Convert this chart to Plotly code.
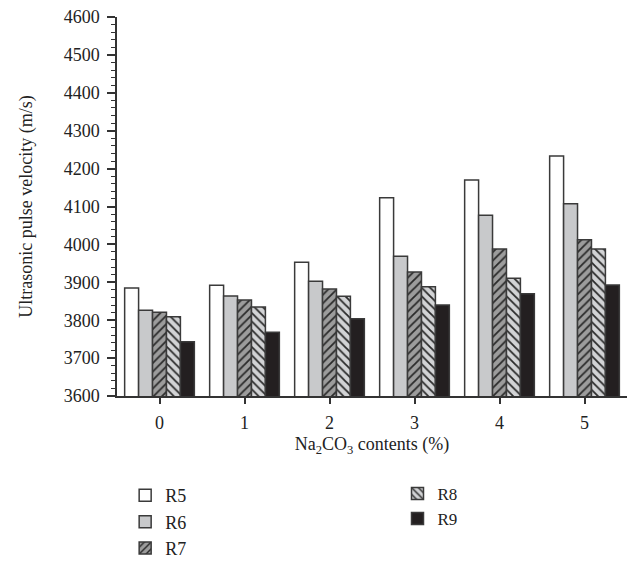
import plotly.graph_objects as go

categories = ["0", "1", "2", "3", "4", "5"]
series_names = ["R5", "R6", "R7", "R8", "R9"]
R5 = [3885, 3892, 3953, 4123, 4170, 4233]
R6 = [3826, 3864, 3903, 3969, 4077, 4107]
R7 = [3821, 3853, 3882, 3927, 3988, 4012]
R8 = [3809, 3835, 3863, 3888, 3911, 3988]
R9 = [3743, 3768, 3804, 3840, 3870, 3893]
values = [R5, R6, R7, R8, R9]

fills = ["#ffffff", "#c8c9cb", "#9c9c9c", "#d2d3d5", "#231f20"]
patterns = [None, None, "/", "\\", None]
legends = ["legend", "legend", "legend", "legend2", "legend2"]

FONT = "Liberation Serif"
fig = go.Figure()
for name, vals, col, pat, lg in zip(series_names, values, fills, patterns, legends):
    marker = dict(color=col, line=dict(color="#3a3a3a", width=1.5))
    if pat:
        marker["pattern"] = dict(shape=pat, fillmode="replace", bgcolor=col,
                                 fgcolor="#2a2a2a", size=6, solidity=0.3)
    fig.add_trace(go.Bar(x=categories, y=vals, name=name, marker=marker,
                         legend=lg, legendgroup=name))

axis_common = dict(showline=True, linecolor="#333333", linewidth=1.5,
                   ticks="outside", tickcolor="#333333", tickwidth=1.5,
                   showgrid=False, zeroline=False,
                   tickfont=dict(family=FONT, size=18, color="#222"))
fig.update_layout(
    width=632, height=567,
    margin=dict(l=117, r=5, t=17, b=171, autoexpand=False),
    paper_bgcolor="white", plot_bgcolor="white",
    barmode="group", bargap=0.18, bargroupgap=0,
    font=dict(family=FONT, size=18, color="#222"),
    xaxis=dict(**axis_common, ticklen=6, range=[-0.5, 5.5], ticklabelstandoff=4,
               title=dict(text="Na<sub>2</sub>CO<sub>3</sub> contents (%)",
                          font=dict(family=FONT, size=18), standoff=5)),
    yaxis=dict(**axis_common, ticklen=8, range=[3600, 4600], dtick=100,
               ticklabelstandoff=4,
               minor=dict(dtick=20, ticks="outside", ticklen=4,
                          tickcolor="#333333", tickwidth=1),
               title=dict(text="Ultrasonic pulse velocity (m/s)",
                          font=dict(family=FONT, size=18), standoff=26)),
    legend=dict(x=0.016, y=-0.214, xanchor="left", yanchor="top",
                traceorder="grouped", tracegroupgap=0,
                font=dict(family=FONT, size=18), bgcolor="rgba(0,0,0,0)"),
    legend2=dict(x=0.55, y=-0.211, xanchor="left", yanchor="top",
                 traceorder="grouped", tracegroupgap=0,
                 font=dict(family=FONT, size=17), bgcolor="rgba(0,0,0,0)"),
    showlegend=True,
)
fig.write_html("out.html")
